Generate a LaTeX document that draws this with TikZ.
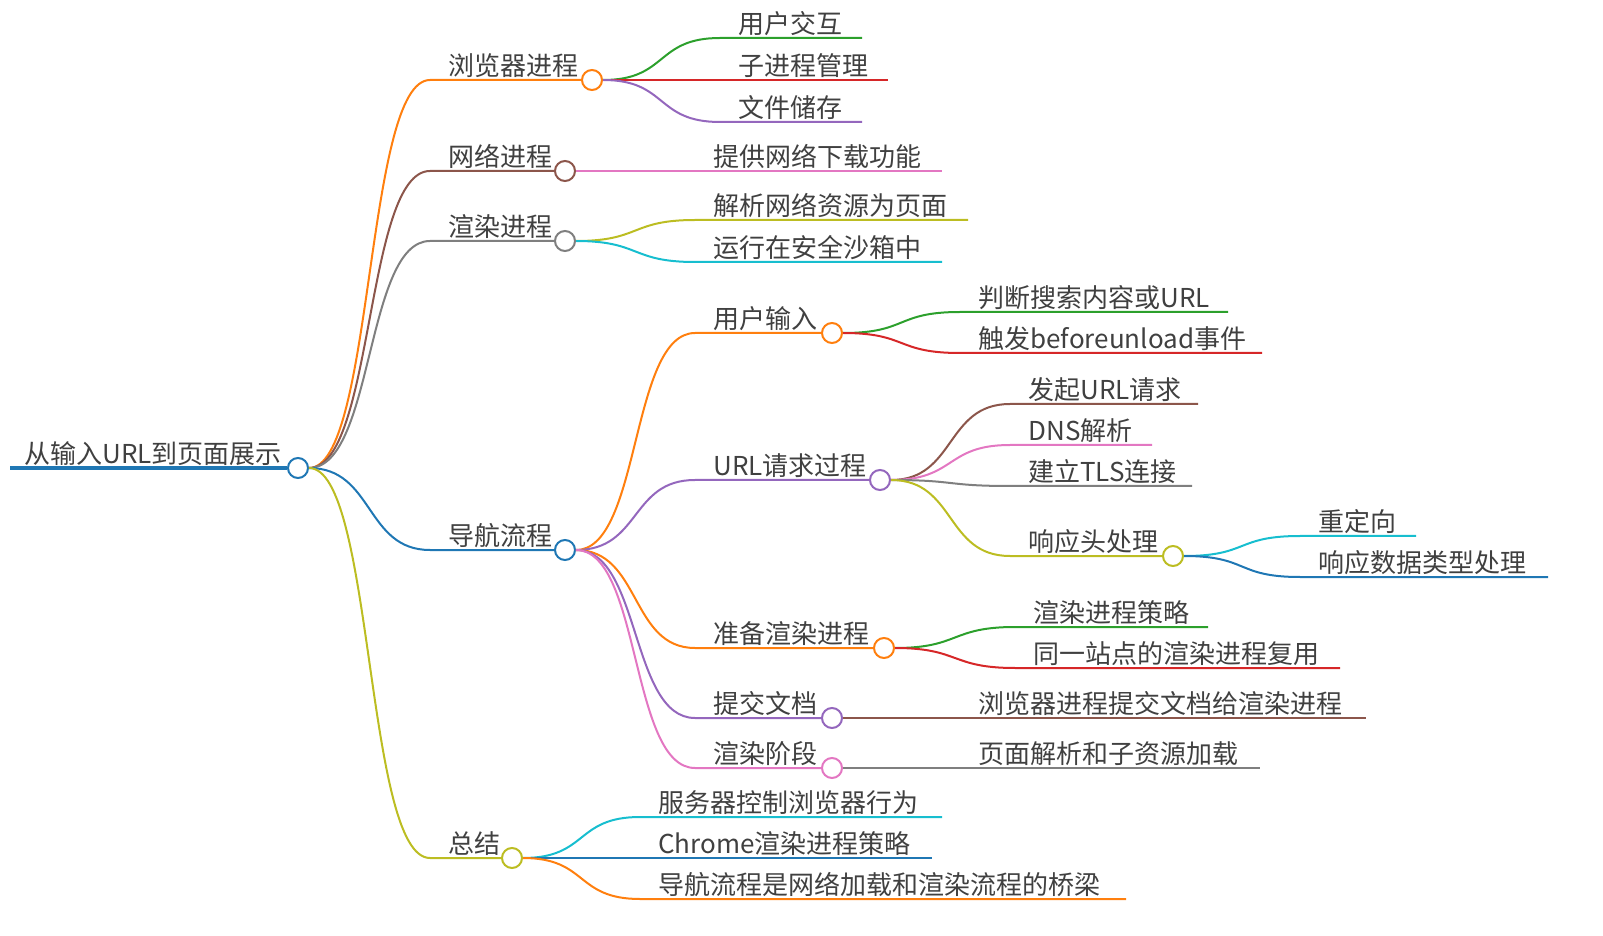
\documentclass[tikz,border=0pt]{standalone}
\usepackage{fontspec}
\setmainfont{Noto Sans CJK SC}
\definecolor{cOrange}{HTML}{FF7F0E}
\definecolor{cBrown}{HTML}{8C564B}
\definecolor{cGray}{HTML}{7F7F7F}
\definecolor{cBlue}{HTML}{1F77B4}
\definecolor{cOlive}{HTML}{BCBD22}
\definecolor{cGreen}{HTML}{2CA02C}
\definecolor{cRed}{HTML}{D62728}
\definecolor{cPurple}{HTML}{9467BD}
\definecolor{cPink}{HTML}{E377C2}
\definecolor{cCyan}{HTML}{17BECF}
\tikzset{
  edge/.style={line width=1pt},
  dot/.style={circle, draw, fill=white, line width=1pt, inner sep=0pt, minimum size=10pt},
  topic/.style={anchor=south west, inner sep=1pt, xshift=8pt, text=black!75,
    font=\fontsize{13}{15}\selectfont}
}
% inner topic: name, parent, x start, x end, y, colour, text
\newcommand\mmbranch[7]{%
  \coordinate (#1s) at (#3,#5);
  \node[dot, draw=#6] (#1) at (#4,#5) {};
  \draw[edge, #6] (#2.east) .. controls +(65,0) and +(-65,0) .. (#1s) -- (#1.west);
  \node[topic] (#1t) at (#1s) {#7};}
% leaf topic
\newcommand\mmleaf[7]{%
  \coordinate (#1s) at (#3,#5);
  \coordinate (#1) at (#4,#5);
  \draw[edge, #6] (#2.east) .. controls +(65,0) and +(-65,0) .. (#1s) -- (#1);
  \node[topic] (#1t) at (#1s) {#7};}
\begin{document}
\begin{tikzpicture}[x=0.5pt, y=-0.5pt]
	\useasboundingbox (0,0) rectangle (1603,936);

	% root
	\coordinate (roots) at (10,468);
	\node[dot, draw=cBlue] (root) at (298,468) {};
	\draw[cBlue, line width=2pt] (roots) -- (root.west);
	\node[topic, xshift=-2pt] (roott) at (roots) {从输入URL到页面展示};

	% first level
	\mmbranch{br}{root}{430}{592}{80}{cOrange}{浏览器进程}
	\mmbranch{net}{root}{430}{565}{171}{cBrown}{网络进程}
	\mmbranch{ren}{root}{430}{565}{241}{cGray}{渲染进程}
	\mmbranch{nav}{root}{430}{565}{550}{cBlue}{导航流程}
	\mmbranch{sum}{root}{430}{512}{858}{cOlive}{总结}

	% browser process
	\mmleaf{br1}{br}{720}{862}{38}{cGreen}{用户交互}
	\mmleaf{br2}{br}{720}{888}{80}{cRed}{子进程管理}
	\mmleaf{br3}{br}{720}{862}{122}{cPurple}{文件储存}

	% network and render process
	\mmleaf{net1}{net}{695}{942}{171}{cPink}{提供网络下载功能}
	\mmleaf{ren1}{ren}{695}{968}{220}{cOlive}{解析网络资源为页面}
	\mmleaf{ren2}{ren}{695}{942}{262}{cCyan}{运行在安全沙箱中}

	% navigation
	\mmbranch{in}{nav}{695}{832}{333}{cOrange}{用户输入}
	\mmleaf{in1}{in}{960}{1228}{312}{cGreen}{判断搜索内容或URL}
	\mmleaf{in2}{in}{960}{1262}{353}{cRed}{触发beforeunload事件}

	\mmbranch{req}{nav}{695}{880}{480}{cPurple}{URL请求过程}
	\mmleaf{req1}{req}{1010}{1198}{404}{cBrown}{发起URL请求}
	\mmleaf{req2}{req}{1010}{1152}{445}{cPink}{DNS解析}
	\mmleaf{req3}{req}{1010}{1192}{486}{cGray}{建立TLS连接}
	\mmbranch{hdr}{req}{1010}{1173}{556}{cOlive}{响应头处理}
	\mmleaf{hdr1}{hdr}{1300}{1416}{536}{cCyan}{重定向}
	\mmleaf{hdr2}{hdr}{1300}{1548}{577}{cBlue}{响应数据类型处理}

	\mmbranch{prep}{nav}{695}{884}{648}{cOrange}{准备渲染进程}
	\mmleaf{prep1}{prep}{1015}{1208}{627}{cGreen}{渲染进程策略}
	\mmleaf{prep2}{prep}{1015}{1340}{668}{cRed}{同一站点的渲染进程复用}

	\mmbranch{com}{nav}{695}{832}{718}{cPurple}{提交文档}
	\mmleaf{com1}{com}{960}{1366}{718}{cBrown}{浏览器进程提交文档给渲染进程}

	\mmbranch{pnt}{nav}{695}{832}{768}{cPink}{渲染阶段}
	\mmleaf{pnt1}{pnt}{960}{1260}{768}{cGray}{页面解析和子资源加载}

	% summary
	\mmleaf{sum1}{sum}{640}{942}{817}{cCyan}{服务器控制浏览器行为}
	\mmleaf{sum2}{sum}{640}{932}{858}{cBlue}{Chrome渲染进程策略}
	\mmleaf{sum3}{sum}{640}{1126}{899}{cOrange}{导航流程是网络加载和渲染流程的桥梁}
\end{tikzpicture}
\end{document}
